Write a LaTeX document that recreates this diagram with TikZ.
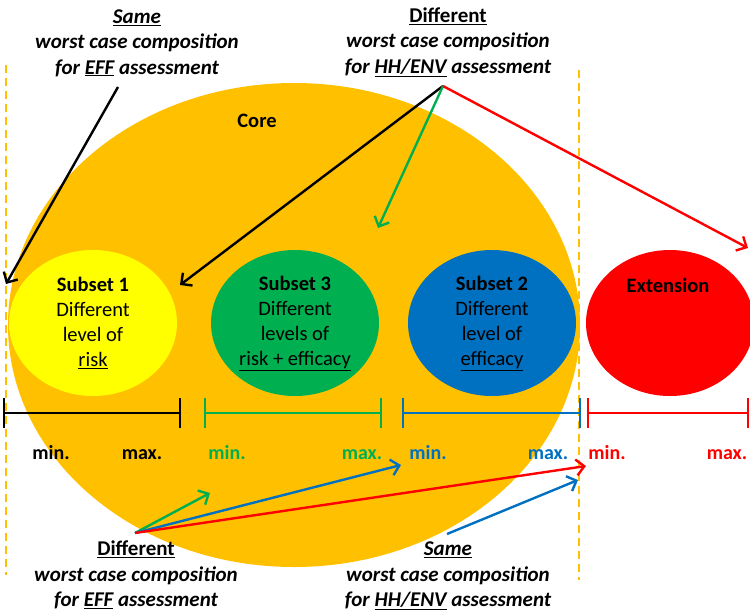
\documentclass[tikz,border=0pt]{standalone}
\usepackage{fontspec}
\setmainfont{Carlito}
\usetikzlibrary{shapes.geometric,arrows.meta}
\definecolor{coreorange}{HTML}{FFC000}
\definecolor{subyellow}{HTML}{FFFF00}
\definecolor{subgreen}{HTML}{00B050}
\definecolor{subblue}{HTML}{0070C0}
\definecolor{extred}{HTML}{FF0000}
\tikzset{
  blob/.style={ellipse, minimum width=168pt, minimum height=146pt, inner sep=0pt,
    align=center, font=\fontsize{20.5}{25}\selectfont},
  note/.style={align=center, font=\bfseries\itshape\fontsize{21}{25.5}\selectfont},
  lim/.style={anchor=base, font=\bfseries\fontsize{20}{22}\selectfont},
  pointer/.style={line width=2.4pt, -{Straight Barb[length=8pt,width=16pt]}},
  rangebar/.style={line width=2.4pt},
  border/.style={coreorange, line width=2pt, dash pattern=on 8pt off 5pt},
}
\begin{document}
\begin{tikzpicture}[x=1pt,y=-1pt]
\useasboundingbox (0,0) rectangle (750,611);
\clip (0,0) rectangle (750,611);
% core and subsets
\node [ellipse, fill=coreorange, minimum width=572pt, minimum height=484pt] (core) at (294,325) {};
\node [font=\bfseries\fontsize{20.5}{22}\selectfont] (corelabel) at (257,121) {Core};
\node [blob, fill=subyellow] (sub1) at (93,323) {\textbf{Subset 1}\\Different\\level of\\\underline{risk}};
\node [blob, fill=subgreen] (sub3) at (295,323) {\textbf{Subset 3}\\Different\\levels of\\\underline{risk + efficacy}};
\node [blob, fill=subblue] (sub2) at (492,323) {\textbf{Subset 2}\\Different\\level of\\\underline{efficacy}};
\node [blob, fill=extred] (ext) at (670,323) {};
\node [font=\bfseries\fontsize{20.5}{22}\selectfont] (extlabel) at (668,285) {Extension};

% borders of the core
\draw [border] (6,65) -- (6,575);
\draw [border] (579,70) -- (579,580);

% min/max ranges
\pgfmathsetmacro{\barY}{413}
\pgfmathsetmacro{\labY}{459}
\foreach \lo/\hi/\mn/\mx/\c/\n in {4/180/51/142/black/a,205/381/227/362/subgreen/b,403/580/428/548/subblue/c,588/748/607/727/extred/d}{
  \coordinate (lo\n) at (\lo,\barY);
  \coordinate (hi\n) at (\hi,\barY);
  \draw [rangebar,draw=\c] (lo\n) ++(0,-15) -- ++(0,30) (lo\n) -- (hi\n) ++(0,-15) -- ++(0,30);
  \node [lim,text=\c] (min\n) at (\mn,\labY) {min.};
  \node [lim,text=\c] (max\n) at (\mx,\labY) {max.};
}

% notes
\node [note] (sameEFF) at (137,43) {\underline{Same}\\worst case composition\\for \underline{EFF} assessment};
\node [note] (diffHH) at (448,42) {\upshape\underline{Different}\\worst case composition\\for \underline{HH/ENV} assessment};
\node [note] (diffEFF) at (136,575) {\upshape\underline{Different}\\worst case composition\\for \underline{EFF} assessment};
\node [note] (sameHH) at (448,576) {\underline{Same}\\worst case composition\\for \underline{HH/ENV} assessment};

% arrows
\coordinate (tl) at (118,87);
\coordinate (tm) at (443,86);
\coordinate (bl) at (135,533);
\coordinate (br) at (447,534);
\coordinate (t1) at (6,284);
\coordinate (t2) at (180,285);
\coordinate (t3) at (378,228);
\coordinate (t4) at (748,248);
\coordinate (t5) at (210,493);
\coordinate (t6) at (401,465);
\coordinate (t7) at (586,466);
\coordinate (t8) at (578,480);
\draw [pointer,black] (tl) -- (t1);
\draw [pointer,black] (tm) -- (t2);
\draw [pointer,subgreen] (tm) -- (t3);
\draw [pointer,extred] (tm) -- (t4);
\draw [pointer,subgreen] (bl) -- (t5);
\draw [pointer,subblue] (bl) -- (t6);
\draw [pointer,extred] (bl) -- (t7);
\draw [pointer,subblue] (br) -- (t8);
\end{tikzpicture}
\end{document}
